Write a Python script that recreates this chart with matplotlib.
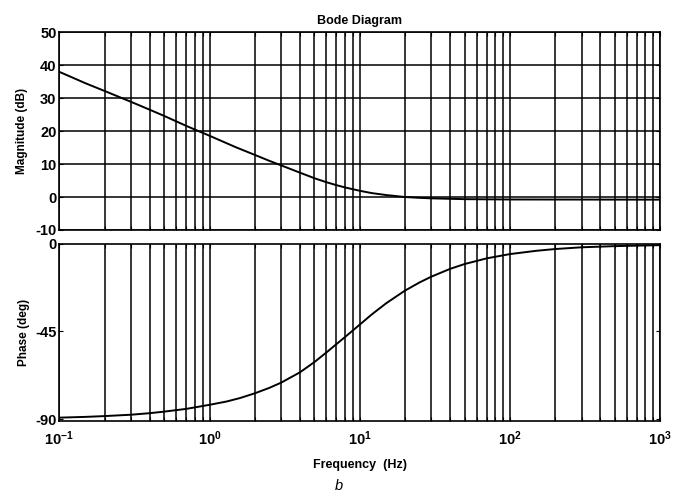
import matplotlib
matplotlib.use("Agg")
import matplotlib.pyplot as plt
import matplotlib.ticker as mticker
import numpy as np

# values
mag_freq = [0.1, 0.15, 0.2, 0.3, 0.4, 0.5, 0.7, 1, 1.5, 2, 2.5, 3, 4, 5, 6, 7, 8, 10, 12, 15,
            20, 25, 30, 50, 100, 1000]
mag_db = [38.0, 34.5, 32.2, 28.9, 26.5, 24.6, 21.6, 18.6, 15.1, 12.8, 11.0, 9.6, 7.4, 5.7,
          4.5, 3.6, 2.9, 1.9, 1.2, 0.6, 0.0, -0.25, -0.4, -0.65, -0.75, -0.8]

ph_freq = [0.1, 0.15, 0.2, 0.3, 0.4, 0.5, 0.7, 1, 1.3, 1.6, 2, 2.5, 3, 4, 5, 6, 7, 8, 10,
           12, 15, 20, 25, 30, 40, 50, 70, 100, 150, 200, 300, 500, 1000]
ph_deg = [-89.3, -88.9, -88.5, -87.8, -87.0, -86.2, -84.8, -82.7, -81.0, -79.2, -76.8, -74.0,
          -71.3, -66.0, -60.7, -55.8, -51.5, -47.8, -41.5, -36.3, -30.5, -24.0, -19.8, -16.8,
          -12.8, -10.3, -7.4, -5.2, -3.5, -2.6, -1.7, -1.1, -0.6]

mag_ticks = [-10, 0, 10, 20, 30, 40, 50]
ph_ticks = [-90, -45, 0]
x_ticks = [0.1, 1, 10, 100, 1000]
x_labels = [r'$\mathbf{10^{-1}}$', r'$\mathbf{10^{0}}$', r'$\mathbf{10^{1}}$',
            r'$\mathbf{10^{2}}$', r'$\mathbf{10^{3}}$']

plt.rcParams['font.family'] = ['Liberation Sans', 'DejaVu Sans']
plt.rcParams['font.weight'] = 'bold'
plt.rcParams['axes.unicode_minus'] = False
plt.rcParams['mathtext.fontset'] = 'custom'
plt.rcParams['mathtext.bf'] = 'Liberation Sans:bold'
plt.rcParams['mathtext.rm'] = 'Liberation Sans:bold'

fig = plt.figure(figsize=(6.78, 5.01), dpi=100)
ax1 = fig.add_axes([0.0875, 0.541, 0.886, 0.3945])
ax2 = fig.add_axes([0.0875, 0.159, 0.886, 0.354])

def style(ax):
    ax.set_xscale('log')
    ax.set_xlim(0.1, 1000)
    ax.xaxis.set_minor_locator(mticker.LogLocator(base=10, subs=np.arange(2, 10)))
    ax.grid(True, which='both', axis='x', color='black', linewidth=1.1)
    ax.tick_params(which='both', direction='in', top=True, right=True,
                   length=3, labelsize=10.5, width=0.8, pad=2)
    for s in ax.spines.values():
        s.set_linewidth(1.2)
    ax.set_axisbelow(True)

style(ax1)
ax1.plot(mag_freq, mag_db, color='black', linewidth=1.4)
ax1.set_ylim(-10, 50)
ax1.set_yticks(mag_ticks)
ax1.grid(True, which='major', axis='y', color='black', linewidth=1.1)
ax1.tick_params(axis='x', which='both', labelbottom=False)
ax1.set_ylabel('Magnitude (dB)', fontsize=8.5, fontweight='bold', labelpad=5)
ax1.set_title('Bode Diagram', fontsize=9, fontweight='bold', pad=6)

style(ax2)
ax2.plot(ph_freq, ph_deg, color='black', linewidth=1.4)
ax2.set_ylim(-91.2, 0)
ax2.set_yticks(ph_ticks)
ax2.set_xticks(x_ticks)
ax2.set_xticklabels(x_labels)
ax2.tick_params(axis='x', pad=6)
ax2.set_ylabel('Phase (deg)', fontsize=8.5, fontweight='bold', labelpad=4)
ax2.set_xlabel('Frequency  (Hz)', fontsize=9, fontweight='bold', labelpad=8)

fig.text(0.5, 0.022, 'b', fontsize=10.5, style='italic', fontweight='normal', ha='center')

fig.savefig('out.png', dpi=100)
